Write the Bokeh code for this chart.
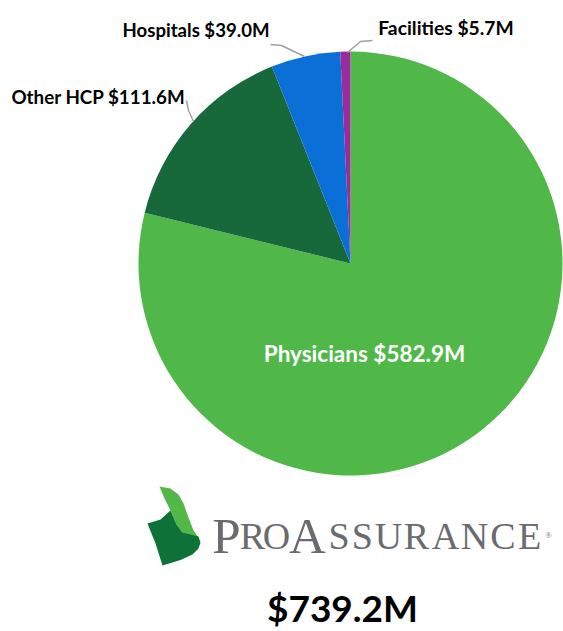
import numpy as np
from bokeh.plotting import figure
from bokeh.models import Range1d, ColumnDataSource
from bokeh.core.properties import value
from bokeh.embed import file_html
from bokeh.resources import INLINE

# ---- data ----
segments = ["Physicians", "Other HCP", "Hospitals", "Facilities"]
amounts = [582.9, 111.6, 39.0, 5.7]          # $M
seg_colors = ["#50B848", "#17683A", "#0B6FD8", "#9B2A9C"]
total_label = "$739.2M"
brand_letters = ["P", "R", "O", "A", "S", "S", "U", "R", "A", "N", "C", "E"]

W, H = 563, 631
TXT_SHIFT = 8   # text baseline correction
def X(px):
    return px
def Y(py):
    return H - py
def YT(py):
    return H - (py - TXT_SHIFT)

p = figure(width=W, height=H, x_range=Range1d(0, W), y_range=Range1d(0, H),
           output_backend="svg", toolbar_location=None, min_border=0,
           background_fill_color="white", border_fill_color="white",
           outline_line_color=None)
p.axis.visible = False
p.grid.visible = False

# ---- pie ----
vals = np.array(amounts)
frac = vals / vals.sum()
end_f = np.cumsum(frac)
start_f = end_f - frac
src = ColumnDataSource(dict(
    start=np.pi / 2 - 2 * np.pi * start_f,
    end=np.pi / 2 - 2 * np.pi * end_f,
    color=seg_colors,
))
cx, cy, r = X(350), Y(263), 212
p.wedge(x=cx, y=cy, radius=r, start_angle="start", end_angle="end",
        direction="clock", fill_color="color", line_color=None, source=src)

# ---- leader lines ----
lead = "#A0A0A0"
p.line([X(270), X(281), X(304)], [Y(44), Y(45), Y(56)], line_color=lead, line_width=1.5)
p.line([X(347), X(360), X(372)], [Y(52), Y(41), Y(40)], line_color=lead, line_width=1.5)
p.line([X(186), X(188), X(193)], [Y(100), Y(110), Y(121)], line_color=lead, line_width=1.5)

# ---- labels ----
labels = [f"{n} ${v:.1f}M" for n, v in zip(segments, amounts)]
lab_pos = [(364, 361, "white", "22.5px"), (98, 104, "black", "18.8px"),
           (195.5, 37, "black", "18.6px"), (445.5, 35, "black", "19.3px")]
for t, (lx, ly, c, fs) in zip(labels, lab_pos):
    p.text(x=[X(lx)], y=[YT(ly)], text=[t], text_font=value("Lato"),
           text_font_style="bold", text_font_size=fs, text_color=c,
           text_align="center", text_baseline="alphabetic")

# ---- logo icon ----
light = [(159, 486), (170, 488), (178, 494), (183, 503), (188, 517), (193, 530),
         (198, 537), (190, 535), (182, 532), (176, 524), (170, 510), (164, 498)]
dark = [(147, 523), (160, 519), (170, 510), (176, 524), (182, 532), (190, 534),
        (198, 536), (200, 542), (198, 548), (192, 554), (180, 559.5), (162, 565), (155, 543)]
p.patch([X(a) for a, b in light], [Y(b) for a, b in light], fill_color="#52B848", line_color=None)
p.patch([X(a) for a, b in dark], [Y(b) for a, b in dark], fill_color="#0E7238", line_color=None)

# ---- brand wordmark ----
big = {0, 3}
centers = [226, 252, 276, 307, 338.6, 361.8, 388, 416, 445, 474, 502.5, 529]
for i, (ch, xc) in enumerate(zip(brand_letters, centers)):
    p.text(x=[X(xc)], y=[YT(543)], text=[ch], text_font=value("Liberation Serif"),
           text_font_size="51px" if i in big else "38px", text_color="#6A6B6E",
           text_align="center", text_baseline="alphabetic")
p.text(x=[X(548)], y=[YT(543)], text=["®"], text_font=value("Liberation Serif"),
       text_font_size="8px", text_color="#6A6B6E", text_align="center",
       text_baseline="alphabetic")

# ---- total ----
p.text(x=[X(342)], y=[YT(615)], text=[total_label], text_font=value("Lato"),
       text_font_style="bold", text_font_size="37px", text_color="black",
       text_align="center", text_baseline="alphabetic")

open("out.html", "w").write(file_html(p, INLINE))
